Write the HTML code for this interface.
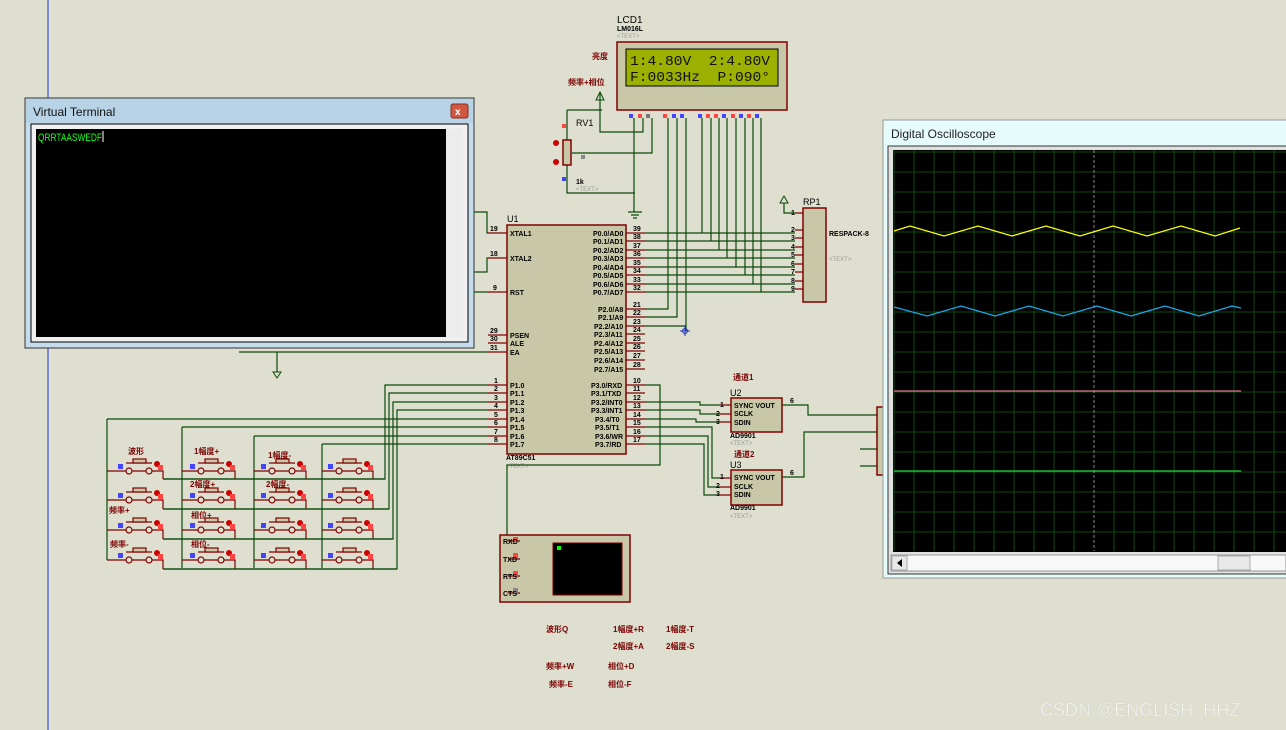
<!DOCTYPE html>
<html><head><meta charset="utf-8"><style>
html,body{margin:0;padding:0;background:#dfdfd0;width:1286px;height:730px;overflow:hidden}
svg{display:block}
.w{stroke:#0a4a0a;stroke-width:1.2;fill:none}
.r{stroke:#800000;stroke-width:1.2;fill:none}
.box{fill:#c8c8a8;stroke:#800000;stroke-width:1.5}
.t{font-family:"Liberation Sans",sans-serif;font-size:7px;font-weight:bold;fill:#000}
.cn{font-family:"Liberation Sans","Noto Sans CJK SC",sans-serif;font-size:8px;font-weight:bold;fill:#7a0000}
.g{font-family:"Liberation Sans",sans-serif;font-size:6px;fill:#999}
</style></head><body>
<svg width="1286" height="730" xmlns="http://www.w3.org/2000/svg">
<line x1="48" y1="0" x2="48" y2="730" stroke="#2030e0" stroke-width="1"/>

<!-- LCD -->
<text x="617" y="23" font-family="Liberation Sans" font-size="10">LCD1</text>
<text x="617" y="31" class="t" font-size="6">LM016L</text>
<text x="617" y="38" class="g">&lt;TEXT&gt;</text>
<rect x="617" y="42" width="170" height="68" class="box"/>
<rect x="626" y="49" width="152" height="37" fill="#9cb000" stroke="#000"/>
<text x="630" y="65" font-family="Liberation Mono" font-size="14" fill="#111" textLength="140" lengthAdjust="spacingAndGlyphs">1:4.80V&#160;&#160;2:4.80V</text>
<text x="630" y="81" font-family="Liberation Mono" font-size="14" fill="#111" textLength="140" lengthAdjust="spacingAndGlyphs">F:0033Hz&#160;&#160;P:090°</text>
<g class="w">
<path d="M634 118V212M643 118V132H600V92M652 118V153H572M668 118V309H645M677 118V317H645M686 118V326H645M686 326V331"/>
<path d="M702 118V233M711 118V241M719 118V250M727 118V258M736 118V267M745 118V275M753 118V284M761 118V292"/>
<path d="M645 233H795M645 241H795M645 250H795M645 258H795M645 267H795M645 275H795M645 284H795M645 292H795"/>
<path d="M567 110H602M567 110V193H635M628 212H642M631 215H639M633 218H637"/>
</g>
<g fill="#f44"><rect x="629" y="114" width="4" height="4" fill="#44f"/><rect x="638" y="114" width="4" height="4"/><rect x="646" y="114" width="4" height="4" fill="#777"/><rect x="663" y="114" width="4" height="4"/><rect x="672" y="114" width="4" height="4" fill="#44f"/><rect x="680" y="114" width="4" height="4" fill="#44f"/><rect x="698" y="114" width="4" height="4" fill="#44f"/><rect x="706" y="114" width="4" height="4"/><rect x="714" y="114" width="4" height="4"/><rect x="722" y="114" width="4" height="4" fill="#44f"/><rect x="731" y="114" width="4" height="4"/><rect x="739" y="114" width="4" height="4" fill="#44f"/><rect x="747" y="114" width="4" height="4"/><rect x="755" y="114" width="4" height="4" fill="#44f"/></g>
<text x="592" y="59" class="cn">亮度</text>
<text x="568" y="85" class="cn">频率+相位</text>
<path d="M596 100L600 92L604 100Z" fill="none" stroke="#0a4a0a"/>
<text x="576" y="126" font-family="Liberation Sans" font-size="9">RV1</text>
<rect x="563" y="140" width="8" height="25" class="box"/>
<circle cx="556" cy="143" r="3" fill="#c00"/><circle cx="556" cy="162" r="3" fill="#c00"/>
<rect x="562" y="124" width="4" height="4" fill="#f44"/><rect x="562" y="177" width="4" height="4" fill="#44f"/><rect x="581" y="155" width="4" height="4" fill="#888"/>
<text x="576" y="184" class="t" font-size="6">1k</text><text x="576" y="191" class="g">&lt;TEXT&gt;</text>

<!-- RP1 -->
<text x="803" y="205" font-family="Liberation Sans" font-size="9">RP1</text>
<rect x="803" y="208" width="23" height="94" class="box"/>
<path class="w" d="M784 203V213H795"/><path d="M780 203L784 196L788 203Z" fill="none" stroke="#0a4a0a"/>
<g class="r"><path d="M795 213H803M795 230H803M795 238H803M795 247H803M795 255H803M795 264H803M795 272H803M795 281H803M795 289H803"/></g>
<g class="t" font-size="6"><text x="791" y="215">1</text><text x="791" y="232">2</text><text x="791" y="240">3</text><text x="791" y="249">4</text><text x="791" y="257">5</text><text x="791" y="266">6</text><text x="791" y="274">7</text><text x="791" y="283">8</text><text x="791" y="291">9</text></g>
<text x="829" y="236" class="t" font-size="6">RESPACK-8</text><text x="829" y="261" class="g">&lt;TEXT&gt;</text>

<!-- U1 -->
<text x="507" y="222" font-family="Liberation Sans" font-size="9">U1</text>
<rect x="507" y="225" width="119" height="229" class="box"/>
<g class="r">
<path d="M488 233H507M488 258H507M488 292H507M488 335H507M488 343H507M488 352H507"/>
<path d="M488 385H507M488 393H507M488 402H507M488 410H507M488 419H507M488 427H507M488 436H507M488 444H507"/>
<path d="M626 233H645M626 241H645M626 250H645M626 258H645M626 267H645M626 275H645M626 284H645M626 292H645"/>
<path d="M626 309H645M626 317H645M626 326H645M626 334H645M626 343H645M626 351H645M626 360H645M626 369H645"/>
<path d="M626 385H645M626 393H645M626 402H645M626 410H645M626 419H645M626 427H645M626 436H645M626 444H645"/>
</g>
<g class="t" font-size="6">
<text x="510" y="236">XTAL1</text><text x="510" y="261">XTAL2</text><text x="510" y="295">RST</text><text x="510" y="338">PSEN</text><text x="510" y="346">ALE</text><text x="510" y="355">EA</text>
<text x="510" y="388">P1.0</text><text x="510" y="396">P1.1</text><text x="510" y="405">P1.2</text><text x="510" y="413">P1.3</text><text x="510" y="422">P1.4</text><text x="510" y="430">P1.5</text><text x="510" y="439">P1.6</text><text x="510" y="447">P1.7</text>
<text x="593" y="236">P0.0/AD0</text><text x="593" y="244">P0.1/AD1</text><text x="593" y="253">P0.2/AD2</text><text x="593" y="261">P0.3/AD3</text><text x="593" y="270">P0.4/AD4</text><text x="593" y="278">P0.5/AD5</text><text x="593" y="287">P0.6/AD6</text><text x="593" y="295">P0.7/AD7</text>
<text x="598" y="312">P2.0/A8</text><text x="598" y="320">P2.1/A9</text><text x="594" y="329">P2.2/A10</text><text x="594" y="337">P2.3/A11</text><text x="594" y="346">P2.4/A12</text><text x="594" y="354">P2.5/A13</text><text x="594" y="363">P2.6/A14</text><text x="594" y="372">P2.7/A15</text>
<text x="591" y="388">P3.0/RXD</text><text x="591" y="396">P3.1/TXD</text><text x="591" y="405">P3.2/INT0</text><text x="591" y="413">P3.3/INT1</text><text x="595" y="422">P3.4/T0</text><text x="595" y="430">P3.5/T1</text><text x="595" y="439">P3.6/WR</text><text x="595" y="447">P3.7/RD</text>
<text x="490" y="231">19</text><text x="490" y="256">18</text><text x="493" y="290">9</text><text x="490" y="333">29</text><text x="490" y="341">30</text><text x="490" y="350">31</text>
<text x="494" y="383">1</text><text x="494" y="391">2</text><text x="494" y="400">3</text><text x="494" y="408">4</text><text x="494" y="417">5</text><text x="494" y="425">6</text><text x="494" y="434">7</text><text x="494" y="442">8</text>
<text x="633" y="231">39</text><text x="633" y="239">38</text><text x="633" y="248">37</text><text x="633" y="256">36</text><text x="633" y="265">35</text><text x="633" y="273">34</text><text x="633" y="282">33</text><text x="633" y="290">32</text>
<text x="633" y="307">21</text><text x="633" y="315">22</text><text x="633" y="324">23</text><text x="633" y="332">24</text><text x="633" y="341">25</text><text x="633" y="349">26</text><text x="633" y="358">27</text><text x="633" y="367">28</text>
<text x="633" y="383">10</text><text x="633" y="391">11</text><text x="633" y="400">12</text><text x="633" y="408">13</text><text x="633" y="417">14</text><text x="633" y="425">15</text><text x="633" y="434">16</text><text x="633" y="442">17</text>
<text x="506" y="460">AT89C51</text></g>
<text x="506" y="468" class="g">&lt;TEXT&gt;</text>
<path d="M680 331H690M685 326V336" stroke="#2030c0"/><circle cx="685" cy="331" r="2.5" fill="none" stroke="#2030c0"/>

<!-- wires left of U1 -->
<g class="w">
<path d="M474 212H487V233H488M474 272H487V258H488M474 292H488M239 352H488M277 352V372"/>
<path d="M107 419H488M182 427H488M254 436H488M322 444H488"/>
<path d="M107 419V560M182 427V568M254 436V568M322 444V568"/>
<path d="M488 385H385V479H163M488 393H389V509H163M488 402H393V539H163M488 410H397V569H163"/>
<path d="M645 385H660V465H507V575M507 541H520M507 559H520"/>
<path d="M645 402H700V405H720M645 410H700V414H720M645 419H696V422H720"/>
<path d="M645 427H712V478H720M645 436H708V487H720M645 444H704V495H720"/>
<path d="M782 405H808V415H877M782 477H804V432H877M860 449H877M860 466H877"/>
</g>
<path d="M273 372L277 378L281 372Z" fill="none" stroke="#0a4a0a"/>

<!-- keypad wires -->
<g class="r" fill="none">
<path d="M107 471H126M132 471H146M152 471H163V479M182 471H198M204 471H218M224 471H235V479M254 471H269M275 471H289M295 471H306V479M322 471H336M342 471H356M362 471H373V479"/>
<path d="M107 500H126M132 500H146M152 500H163V509M182 500H198M204 500H218M224 500H235V509M254 500H269M275 500H289M295 500H306V509M322 500H336M342 500H356M362 500H373V509"/>
<path d="M107 530H126M132 530H146M152 530H163V539M182 530H198M204 530H218M224 530H235V539M254 530H269M275 530H289M295 530H306V539M322 530H336M342 530H356M362 530H373V539"/>
<path d="M107 560H126M132 560H146M152 560H163V569M182 560H198M204 560H218M224 560H235V569M254 560H269M275 560H289M295 560H306V569M322 560H336M342 560H356M362 560H373V569"/>
</g>
<g stroke="#0a4a0a" stroke-width="1.2" fill="none"><path d="M163 479H385M163 509H389M163 539H393M163 569H397"/></g>
<g fill="none" stroke="#800000" stroke-width="1.2">
<g id="b1"><circle cx="129" cy="471" r="3"/><circle cx="149" cy="471" r="3"/><path d="M126 463H152"/><rect x="133" y="459" width="13" height="4" fill="#c8c8a8"/></g>
<use href="#b1" x="72"/><use href="#b1" x="143"/><use href="#b1" x="210"/>
<use href="#b1" y="29"/><use href="#b1" x="72" y="29"/><use href="#b1" x="143" y="29"/><use href="#b1" x="210" y="29"/>
<use href="#b1" y="59"/><use href="#b1" x="72" y="59"/><use href="#b1" x="143" y="59"/><use href="#b1" x="210" y="59"/>
<use href="#b1" y="89"/><use href="#b1" x="72" y="89"/><use href="#b1" x="143" y="89"/><use href="#b1" x="210" y="89"/>
</g>
<g><g id="d1"><rect x="118" y="464" width="5" height="5" fill="#44f"/><circle cx="157" cy="464" r="3" fill="#c00"/><rect x="158" y="465" width="5" height="5" fill="#f44"/></g>
<use href="#d1" x="72"/><use href="#d1" x="143"/><use href="#d1" x="210"/>
<use href="#d1" y="29"/><use href="#d1" x="72" y="29"/><use href="#d1" x="143" y="29"/><use href="#d1" x="210" y="29"/>
<use href="#d1" y="59"/><use href="#d1" x="72" y="59"/><use href="#d1" x="143" y="59"/><use href="#d1" x="210" y="59"/>
<use href="#d1" y="89"/><use href="#d1" x="72" y="89"/><use href="#d1" x="143" y="89"/><use href="#d1" x="210" y="89"/></g>
<g class="cn"><text x="128" y="454">波形</text><text x="194" y="454">1幅度+</text><text x="268" y="458">1幅度-</text><text x="190" y="487">2幅度+</text><text x="266" y="487">2幅度-</text><text x="109" y="513">频率+</text><text x="191" y="518">相位+</text><text x="110" y="547">频率-</text><text x="191" y="547">相位-</text></g>

<!-- small terminal -->
<rect x="500" y="535" width="130" height="67" class="box"/>
<rect x="553" y="543" width="69" height="52" fill="#000" stroke="#800000"/>
<rect x="557" y="546" width="4" height="4" fill="#0f0"/>
<g class="r"><path d="M508 541H520M508 559H520M508 576H520M508 593H520"/></g>
<rect x="513" y="537" width="5" height="5" fill="#f44"/><rect x="513" y="553" width="5" height="5" fill="#f44"/><rect x="513" y="571" width="5" height="5" fill="#f44"/><rect x="513" y="588" width="5" height="5" fill="#888"/>
<g class="t" font-size="6"><text x="503" y="544">RXD</text><text x="503" y="562">TXD</text><text x="503" y="579">RTS</text><text x="503" y="596">CTS</text></g>

<!-- U2/U3 -->
<rect x="731" y="398" width="51" height="34" class="box"/>
<rect x="731" y="470" width="51" height="35" class="box"/>
<rect x="877" y="407" width="8" height="68" class="box"/>
<text x="733" y="380" class="cn">通道1</text><text x="730" y="396" font-family="Liberation Sans" font-size="9">U2</text>
<text x="734" y="457" class="cn">通道2</text><text x="730" y="468" font-family="Liberation Sans" font-size="9">U3</text>
<g class="r"><path d="M720 405H731M720 414H731M720 422H731M720 478H731M720 487H731M720 495H731"/></g>
<g class="t" font-size="6"><text x="734" y="408">SYNC VOUT</text><text x="734" y="416">SCLK</text><text x="734" y="425">SDIN</text><text x="730" y="438">AD9901</text>
<text x="734" y="480">SYNC VOUT</text><text x="734" y="489">SCLK</text><text x="734" y="497">SDIN</text><text x="730" y="510">AD9901</text>
<text x="790" y="403">6</text><text x="790" y="475">6</text>
<text x="720" y="407">1</text><text x="716" y="416">2</text><text x="716" y="424">3</text><text x="720" y="479">1</text><text x="716" y="488">2</text><text x="716" y="496">3</text></g>
<text x="730" y="445" class="g">&lt;TEXT&gt;</text><text x="730" y="518" class="g">&lt;TEXT&gt;</text>

<!-- Virtual terminal window -->
<rect x="25" y="98" width="449" height="250" fill="#c4dceb" stroke="#333"/>
<rect x="26" y="99" width="447" height="24" fill="#b8d2e6"/>
<text x="33" y="116" font-family="Liberation Sans" font-size="12" fill="#111">Virtual Terminal</text>
<rect x="451" y="104" width="17" height="14" rx="2" fill="#d0583f" stroke="#8a3020"/>
<text x="455" y="115" font-family="Liberation Sans" font-size="10" font-weight="bold" fill="#fff">x</text>
<rect x="31" y="124" width="437" height="218" fill="#f0f0f0" stroke="#000"/>
<rect x="36" y="129" width="410" height="208" fill="#000"/>
<rect x="446" y="129" width="17" height="208" fill="#ececec"/>
<text x="38" y="141" font-family="Liberation Sans" font-size="11" fill="#18ff18" textLength="64" lengthAdjust="spacingAndGlyphs">QRRTAASWEDF</text>
<line x1="103" y1="131" x2="103" y2="142" stroke="#fff"/>

<!-- Oscilloscope -->
<rect x="883" y="120" width="410" height="458" fill="#e6fbfc" stroke="#999"/>
<text x="891" y="138" font-family="Liberation Sans" font-size="12" fill="#222">Digital Oscilloscope</text>
<rect x="888" y="146" width="400" height="428" fill="#e0e0e0" stroke="#333"/>
<rect x="893" y="150" width="393" height="402" fill="#000"/>
<g stroke="#0c4a0c" stroke-width="1">
<path d="M894 150V551M914 150V551M934 150V551M954 150V551M974 150V551M994 150V551M1014 150V551M1034 150V551M1054 150V551M1074 150V551M1114 150V551M1134 150V551M1154 150V551M1174 150V551M1194 150V551M1214 150V551M1234 150V551M1254 150V551M1274 150V551"/>
<path d="M894 152H1286M894 172H1286M894 192H1286M894 212H1286M894 232H1286M894 252H1286M894 272H1286M894 292H1286M894 312H1286M894 332H1286M894 352H1286M894 372H1286M894 392H1286M894 412H1286M894 432H1286M894 452H1286M894 472H1286M894 492H1286M894 512H1286M894 532H1286"/>
</g>
<line x1="1094" y1="150" x2="1094" y2="551" stroke="#888" stroke-dasharray="3,2"/>
<polyline fill="none" stroke="#ffff00" stroke-width="1.3" points="894,231 910,226 944,236 978,226 1012,236 1046,226 1080,236 1113,226 1147,236 1181,226 1215,236 1240,228"/>
<polyline fill="none" stroke="#1aa8e8" stroke-width="1.3" points="894,307 927,316 961,306 995,316 1029,306 1063,316 1097,306 1131,316 1165,306 1199,316 1232,306 1241,308"/>
<line x1="894" y1="391" x2="1241" y2="391" stroke="#e07090" stroke-width="1.2"/>
<line x1="894" y1="471" x2="1241" y2="471" stroke="#20d040" stroke-width="1.2"/>
<rect x="891" y="555" width="395" height="16" fill="#f8f8f8" stroke="#999"/>
<rect x="892" y="556" width="15" height="14" fill="#e8e8e8" stroke="#aaa"/>
<path d="M902 559L897 563L902 567Z" fill="#000"/>
<rect x="1218" y="556" width="32" height="14" fill="#e8e8e8" stroke="#aaa"/>

<!-- bottom labels -->
<g class="cn"><text x="546" y="632">波形Q</text><text x="613" y="632">1幅度+R</text><text x="666" y="632">1幅度-T</text>
<text x="613" y="649">2幅度+A</text><text x="666" y="649">2幅度-S</text>
<text x="546" y="669">频率+W</text><text x="608" y="669">相位+D</text>
<text x="549" y="687">频率-E</text><text x="608" y="687">相位-F</text></g>
<text x="1040" y="716" font-family="Liberation Sans" font-size="18" fill="#f4f4f0" stroke="#c8c8c0" stroke-width="0.3">CSDN @ENGLISH_HHZ</text>
</svg>
</body></html>
